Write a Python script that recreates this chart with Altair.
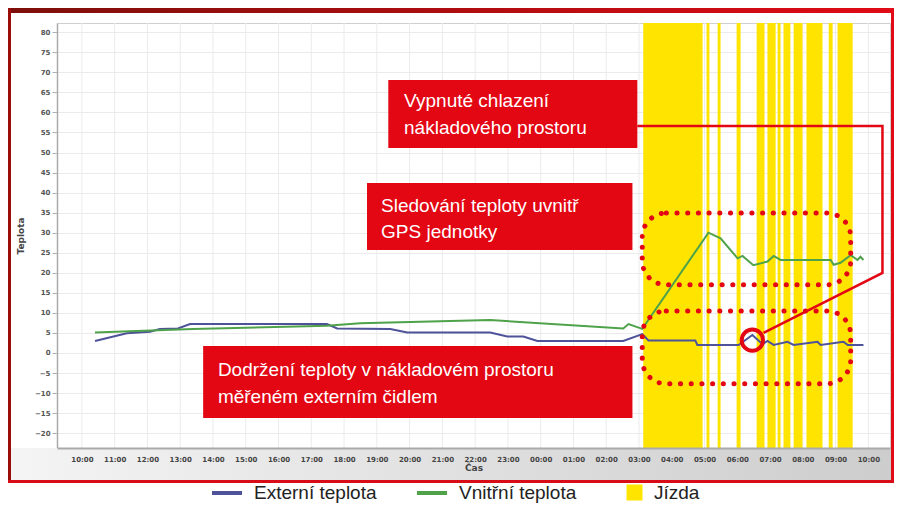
import altair as alt
import pandas as pd

# ---------------- data (time in hours from 00:00 of day 1; 34 = 10:00 next day) ----------------
ext_hours = [10.40, 11.37, 12.08, 12.38, 12.93, 13.30, 17.48, 17.79, 19.41, 19.93,
             22.46, 22.98, 23.47, 23.90, 26.52, 27.10, 27.29, 28.72, 28.78, 30.04,
             30.46, 30.77, 30.92, 31.11, 31.53, 31.72, 32.45, 32.54, 33.24, 33.37, 33.85]
ext_temp = [3.0, 4.9, 5.3, 6.0, 6.1, 7.2, 7.2, 6.1, 6.0, 5.1,
            5.1, 4.1, 4.1, 3.0, 3.0, 4.7, 3.1, 3.1, 2.0, 2.0,
            4.5, 2.2, 3.0, 2.0, 2.8, 2.0, 2.8, 2.0, 2.8, 2.0, 2.0]

int_hours = [10.40, 13.39, 17.48, 18.49, 22.46, 26.52, 26.68, 27.10, 29.12, 29.49,
             30.01, 30.16, 30.49, 30.92, 31.11, 31.32, 32.85, 32.94, 33.15, 33.46,
             33.67, 33.76, 33.85]
int_temp = [5.1, 6.0, 6.8, 7.4, 8.2, 6.1, 7.2, 6.0, 30.0, 28.6,
            23.6, 24.2, 21.9, 22.8, 24.2, 23.2, 23.2, 22.0, 22.5, 24.4,
            23.2, 24.0, 23.2]

drive_start = [27.13, 29.06, 29.40, 29.98, 30.59, 30.92, 31.23, 31.41, 31.72, 32.11, 32.79, 33.06]
drive_end = [28.94, 29.15, 29.49, 30.10, 30.83, 31.17, 31.32, 31.62, 31.99, 32.60, 32.91, 33.52]

series_names = ["Externí teplota", "Vnitřní teplota"]
series_colors = ["#4d5299", "#4ea24a"]
drive_name = "Jízda"
drive_color = "#FFE400"

y_ticks = list(range(-20, 85, 5))
x_ticks = list(range(10, 35))

# annotation boxes (data coordinates)
box_x1 = [19.35, 18.70, 13.70]
box_x2 = [26.95, 26.80, 26.80]
box_y1 = [68.1, 42.4, 1.75]
box_y2 = [51.1, 25.7, -16.2]

text_x = [19.83, 19.83, 19.13, 19.13, 14.15, 14.15]
text_y = [62.8, 56.1, 36.7, 30.2, -4.2, -11.0]
text_lines = ["Vypnuté chlazení", "nákladového prostoru",
              "Sledování teploty uvnitř", "GPS jednotky",
              "Dodržení teploty v nákladovém prostoru", "měřeném externím čidlem"]

dot_x1 = [27.10, 27.10]
dot_x2 = [33.46, 33.46]
dot_y1 = [34.9, 10.5]
dot_y2 = [17.0, -7.7]

call_x = [26.95, 34.43, 34.43, 30.80]
call_y = [56.6, 56.6, 19.95, 5.0]
circ_x = [30.46]
circ_y = [3.2]

# ---------------- geometry ----------------
W, H = 833, 425
X_DOM = [9.24, 34.66]
Y_DOM = [-23.7, 82.3]
RED = "#E30613"
FONT = "Liberation Sans"
GRID = "#ebebeb"

xs = alt.Scale(domain=X_DOM, nice=False, zero=False)
ys = alt.Scale(domain=Y_DOM, nice=False, zero=False)

lines_df = pd.DataFrame({
    "h": ext_hours + int_hours,
    "t": ext_temp + int_temp,
    "series": [series_names[0]] * len(ext_hours) + [series_names[1]] * len(int_hours),
})
drive_df = pd.DataFrame({"s": drive_start, "e": drive_end, "k": [drive_name] * len(drive_start)})
box_df = pd.DataFrame({"x1": box_x1, "x2": box_x2, "y1": box_y1, "y2": box_y2})
text_df = pd.DataFrame({"x": text_x, "y": text_y, "label": text_lines})
dot_df = pd.DataFrame({"x1": dot_x1, "x2": dot_x2, "y1": dot_y1, "y2": dot_y2})
call_df = pd.DataFrame({"x": call_x, "y": call_y, "o": list(range(len(call_x)))})
circ_df = pd.DataFrame({"x": circ_x, "y": circ_y})
xgrid_df = pd.DataFrame({"g": x_ticks})
one = pd.DataFrame({"k": [0]})

# ---------------- axes (identical in every layer so they merge) ----------------
axis_x = alt.Axis(values=x_ticks, title="Čas",
                  labelExpr="(datum.value % 24 < 10 ? '0' : '') + (datum.value % 24) + ':00'",
                  labelFont="DejaVu Sans", labelFontSize=7, labelFontWeight="bold", labelColor="#444",
                  labelPadding=7, tickSize=0, domainColor="#aaaaaa", domainWidth=2,
                  grid=False, titleFont="DejaVu Sans", titleFontSize=9,
                  titleFontWeight="bold", titleColor="#444", titlePadding=1, zindex=2,
                  labelOverlap=False)
axis_y = alt.Axis(values=y_ticks, title="Teplota",
                  labelFont="DejaVu Sans", labelFontSize=7, labelFontWeight="bold", labelColor="#555",
                  labelPadding=2, tickSize=5, tickColor="#b0b0b0", domainColor="#aaaaaa",
                  domainWidth=1.5, grid=True, gridColor=GRID, titleFont="DejaVu Sans",
                  titleFontSize=9, titleFontWeight="bold", titleColor="#444", titlePadding=9)


def X(f):
    return alt.X(f, scale=xs, axis=axis_x)


def Y(f):
    return alt.Y(f, scale=ys, axis=axis_y)


# ---------------- decorations (frame, header, label band) ----------------
band = alt.Chart(one).mark_rect(
    color=alt.Gradient(gradient="linear",
                       stops=[alt.GradientStop(color="#f4f4f4", offset=0),
                              alt.GradientStop(color="#cdcdcd", offset=1)],
                       x1=0, x2=1, y1=0, y2=0)
).encode(x=alt.value(-49), x2=alt.value(W + 1), y=alt.value(H), y2=alt.value(H + 32))

header = alt.Chart(one).mark_rect(
    color=alt.Gradient(gradient="linear",
                       stops=[alt.GradientStop(color="#7d0f0a", offset=0),
                              alt.GradientStop(color="#e00b16", offset=1)],
                       x1=0, x2=1, y1=0, y2=0)
).encode(x=alt.value(-49), x2=alt.value(W + 4), y=alt.value(-15), y2=alt.value(-10))

frame_l = alt.Chart(one).mark_rect(color="#9a0d0b").encode(
    x=alt.value(-49), x2=alt.value(-46), y=alt.value(-15), y2=alt.value(H + 35))
frame_r = alt.Chart(one).mark_rect(color="#e00b16").encode(
    x=alt.value(W + 1), x2=alt.value(W + 4), y=alt.value(-15), y2=alt.value(H + 35))
frame_b = alt.Chart(one).mark_rect(color="#d80c16").encode(
    x=alt.value(-49), x2=alt.value(W + 4), y=alt.value(H + 32), y2=alt.value(H + 35))

# ---------------- data layers ----------------
xgrid = alt.Chart(xgrid_df).mark_rule(color=GRID, strokeWidth=1).encode(x=X("g:Q"))

drive = alt.Chart(drive_df).mark_rect().encode(
    x=X("s:Q"),
    x2="e:Q",
    fill=alt.Fill("k:N", scale=alt.Scale(domain=[drive_name], range=[drive_color]),
                  legend=alt.Legend(title=None, orient="none", legendX=568, legendY=460,
                                    symbolType="square", symbolSize=256, symbolStrokeWidth=0,
                                    labelFont=FONT, labelFontSize=19, labelColor="#222",
                                    labelOffset=10, padding=0)),
)

lines = alt.Chart(lines_df).mark_line(strokeWidth=2).encode(
    x=X("h:Q"),
    y=Y("t:Q"),
    color=alt.Color("series:N",
                    scale=alt.Scale(domain=series_names, range=series_colors),
                    legend=alt.Legend(title=None, orient="none", legendX=153, legendY=453,
                                      direction="horizontal", symbolType="stroke",
                                      symbolSize=900, symbolStrokeWidth=4,
                                      labelFont=FONT, labelFontSize=19, labelColor="#222",
                                      labelOffset=10, columnPadding=32, padding=0)),
)

dots = alt.Chart(dot_df).mark_rect(
    fillOpacity=0, stroke=RED, strokeWidth=5, strokeDash=[0.1, 10.6], strokeCap="round",
    cornerRadius=24
).encode(x=X("x1:Q"), x2="x2:Q", y=Y("y1:Q"), y2="y2:Q")

callout = alt.Chart(call_df).mark_line(color=RED, strokeWidth=2.5).encode(
    x=X("x:Q"), y=Y("y:Q"), order="o:Q")

circle = alt.Chart(circ_df).mark_point(shape="circle", size=452, filled=False,
                                       stroke=RED, strokeWidth=4, opacity=1).encode(
    x=X("x:Q"), y=Y("y:Q"))

boxes = alt.Chart(box_df).mark_rect(color=RED).encode(
    x=X("x1:Q"), x2="x2:Q", y=Y("y1:Q"), y2="y2:Q")

texts = alt.Chart(text_df).mark_text(align="left", baseline="middle", color="white",
                                     fontSize=19, font=FONT).encode(
    x=X("x:Q"), y=Y("y:Q"), text="label:N")

chart = alt.layer(
    band, header, frame_l, frame_r, frame_b,
    xgrid, drive, lines, dots, callout, circle, boxes, texts,
).properties(
    width=W, height=H,
    autosize=alt.AutoSizeParams(type="none"),
    padding={"left": 49, "top": 15, "right": 4, "bottom": 55},
).configure_view(
    stroke="#cfcfcf", strokeWidth=1
)

chart.save("out.html", embed_options={"renderer": "svg", "actions": False})
